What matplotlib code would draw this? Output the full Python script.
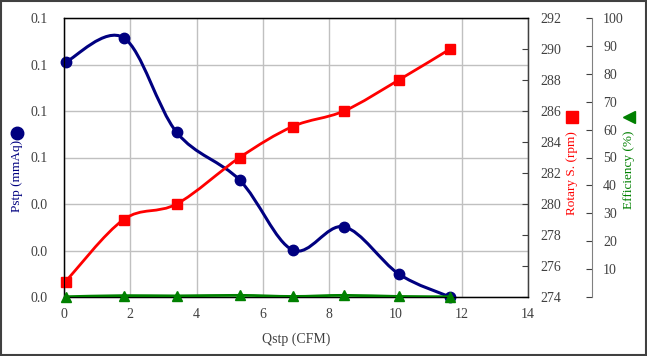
import numpy as np
import matplotlib
matplotlib.use("Agg")
import matplotlib.pyplot as plt
from matplotlib.path import Path
from matplotlib.patches import PathPatch, Rectangle
from matplotlib.lines import Line2D
from matplotlib.ticker import FormatStrFormatter

# donnees
qstp = [0.05, 1.8, 3.4, 5.3, 6.9, 8.45, 10.1, 11.65]
pstp = [0.101, 0.1115, 0.0708, 0.0503, 0.0202, 0.0302, 0.0099, 0.0]
rpm = [275.0, 279.0, 280.0, 283.0, 285.0, 286.0, 288.0, 290.0]
eff = [0.1, 0.5, 0.4, 0.6, 0.2, 0.6, 0.2, 0.1]

x_ticks = [0, 2, 4, 6, 8, 10, 12, 14]
p_ticks = [0, 0.02, 0.04, 0.06, 0.08, 0.10, 0.12]
rpm_ticks = list(range(274, 293, 2))
eff_ticks = list(range(0, 101, 10))

plt.rcParams['font.family'] = ['Liberation Serif', 'DejaVu Serif']
FS = 10
FT = 9.5
GREY = '#404040'


def courbe_lisse(x, y):
    """
    Chemin de Bezier passant par les points (lissage facon Excel)
    """
    pts = np.column_stack([x, y])
    n = len(pts)
    verts = [pts[0]]
    codes = [Path.MOVETO]
    for i in range(n - 1):
        p0 = pts[i - 1] if i > 0 else pts[i]
        p1 = pts[i]
        p2 = pts[i + 1]
        p3 = pts[i + 2] if i + 2 < n else pts[i + 1]
        verts += [p1 + (p2 - p0) / 6, p2 - (p3 - p1) / 6, p2]
        codes += [Path.CURVE4] * 3
    return Path(verts, codes)


fig = plt.figure(figsize=(6.47, 3.56), dpi=100)
ax = fig.add_axes([64 / 647, 1 - 297 / 356, 464 / 647, 279 / 356])
ax2 = ax.twinx()
ax3 = ax.twinx()
ax3.spines['right'].set_position(('axes', (592 - 64) / 464))

# axe principal
ax.set_xlim(0, 14)
ax.set_ylim(0, 0.12)
ax.set_xticks(x_ticks)
ax.set_yticks(p_ticks)
ax.yaxis.set_major_formatter(FormatStrFormatter('%.1f'))
ax.grid(True, color='#c0c0c0', linewidth=1)
ax.set_axisbelow(True)
ax.tick_params(axis='both', length=0, labelsize=FS, colors=GREY)
ax.tick_params(axis='y', pad=12)
ax.tick_params(axis='x', pad=8)
ax.set_xlabel('Qstp (CFM)', fontsize=FS, color=GREY, labelpad=8)
for s in ax.spines.values():
    s.set_color(GREY)
    s.set_linewidth(1)

ax.add_patch(PathPatch(courbe_lisse(qstp, pstp), facecolor='none',
                       edgecolor='#000080', linewidth=2.2, zorder=3))
ax.plot(qstp, pstp, 'o', color='#000080', markersize=7.5, zorder=4,
        clip_on=False)

# vitesse de rotation
ax2.set_ylim(274, 292)
ax2.set_yticks(rpm_ticks)
ax2.tick_params(axis='y', direction='in', length=4, labelsize=FS,
                colors=GREY, pad=9)
ax2.spines['right'].set_color(GREY)
ax2.add_patch(PathPatch(courbe_lisse(qstp, rpm), facecolor='none',
                        edgecolor='#ff0000', linewidth=2, zorder=3))
ax2.plot(qstp, rpm, 's', color='#ff0000', markersize=6.5, zorder=4,
         clip_on=False)

# rendement
ax3.set_ylim(0, 100)
ax3.set_yticks(eff_ticks)
ax3.set_yticklabels([''] + [str(t) for t in eff_ticks[1:]])
ax3.tick_params(axis='y', direction='in', length=4, labelsize=FS,
                colors=GREY, pad=8)
ax3.spines['right'].set_color('#808080')
ax3.add_patch(PathPatch(courbe_lisse(qstp, eff), facecolor='none',
                        edgecolor='#008000', linewidth=2, zorder=3))
ax3.plot(qstp, eff, '^', color='#008000', markersize=7, zorder=4,
         clip_on=False)

# titres des axes avec symboles
fig.text(17 / 647, 1 - 176 / 356, 'Pstp (mmAq)', rotation=90, color='#000080',
         fontsize=FT, ha='center', va='center')
fig.add_artist(Line2D([17 / 647], [1 - 133 / 356], marker='o', color='#000080',
                      markersize=9, transform=fig.transFigure))
fig.text(572 / 647, 1 - 173 / 356, 'Rotary S. (rpm)', rotation=90,
         color='#ff0000', fontsize=FT, ha='center', va='center')
fig.add_artist(Line2D([572 / 647], [1 - 117 / 356], marker='s', color='#ff0000',
                      markersize=8.5, transform=fig.transFigure))
fig.text(629 / 647, 1 - 170 / 356, 'Efficiency (%)', rotation=90,
         color='#008000', fontsize=FT, ha='center', va='center')
fig.add_artist(Line2D([629 / 647], [1 - 117 / 356], marker='<', color='#008000',
                      markersize=8.5, transform=fig.transFigure))

# cadre du graphique
fig.add_artist(Rectangle((0.001, 0.002), 0.997, 0.996, transform=fig.transFigure,
                         fill=False, edgecolor='#404040', linewidth=1.5))

fig.savefig('out.png', dpi=100)
